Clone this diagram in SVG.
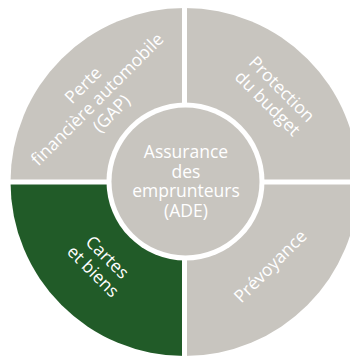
<svg xmlns="http://www.w3.org/2000/svg" width="350" height="357" viewBox="0 0 350 357">
<style>
.g{fill:#C8C5BF}
.green{fill:#215B28}
.t{font-family:"Open Sans","Liberation Sans",sans-serif;font-size:17.5px;fill:#FFFFFF;text-anchor:middle}
</style>
<rect width="350" height="357" fill="#FFFFFF"/>
<g id="perte">
<path class="g" d="M184.5,182 L10.5,182 A174,174 0 0 1 184.5,8 Z"/>
<g transform="translate(98,100) rotate(-45)">
<text class="t" x="0" y="-15">Perte</text>
<text class="t" x="0" y="5">financière automobile</text>
<text class="t" x="0" y="25">(GAP)</text>
</g>
</g>
<g id="protection">
<path class="g" d="M184.5,182 L184.5,8 A174,174 0 0 1 358.5,182 Z"/>
<g transform="translate(274,97) rotate(45)">
<text class="t" x="0" y="-5">Protection</text>
<text class="t" x="0" y="15">du budget</text>
</g>
</g>
<g id="prevoyance">
<path class="g" d="M184.5,182 L358.5,182 A174,174 0 0 1 184.5,356 Z"/>
<g transform="translate(271,267) rotate(-45)">
<text class="t" x="0" y="5">Prévoyance</text>
</g>
</g>
<g id="cartes">
<path class="green" d="M184.5,182 L184.5,356 A174,174 0 0 1 10.5,182 Z"/>
<g transform="translate(99.5,265) rotate(45)">
<text class="t" x="0" y="-5">Cartes</text>
<text class="t" x="0" y="15">et biens</text>
</g>
</g>
<g id="dividers" stroke="#FFFFFF" stroke-width="5">
<line x1="184.5" y1="0" x2="184.5" y2="357"/>
<line x1="0" y1="182" x2="350" y2="182"/>
</g>
<g id="ade">
<circle cx="185.5" cy="181.5" r="79" fill="#FFFFFF"/>
<circle class="g" cx="185.5" cy="181.5" r="74"/>
<text class="t" x="186" y="158">Assurance</text>
<text class="t" x="186" y="177.5">des</text>
<text class="t" x="186" y="197">emprunteurs</text>
<text class="t" x="186" y="216.5">(ADE)</text>
</g>
</svg>
